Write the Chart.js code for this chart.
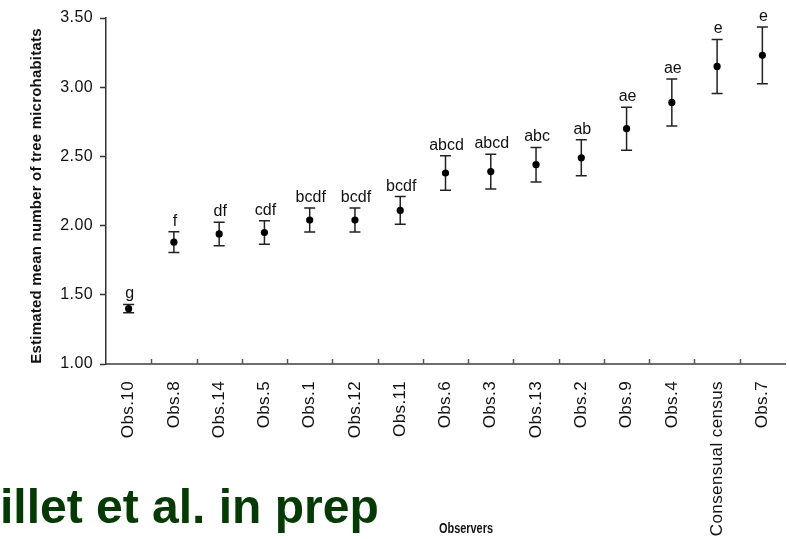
<!DOCTYPE html>
<html>
<head>
<meta charset="utf-8">
<script src="https://cdn.jsdelivr.net/npm/chart.js@4"></script>
<style>
  html, body { margin: 0; padding: 0; background: #fff; }
  #wrap { width: 789px; height: 539px; position: relative; }
</style>
</head>
<body>
<div id="wrap"><canvas id="grafico" width="789" height="539"></canvas></div>
<script>
const observers = ['Obs.10', 'Obs.8', 'Obs.14', 'Obs.5', 'Obs.1', 'Obs.12', 'Obs.11', 'Obs.6', 'Obs.3', 'Obs.13', 'Obs.2', 'Obs.9', 'Obs.4', 'Consensual census', 'Obs.7'];
const means = [1.40, 1.88, 1.94, 1.95, 2.04, 2.04, 2.11, 2.38, 2.39, 2.44, 2.49, 2.70, 2.89, 3.15, 3.23];
const errors = [0.03, 0.075, 0.085, 0.085, 0.087, 0.087, 0.10, 0.125, 0.125, 0.125, 0.13, 0.155, 0.17, 0.195, 0.205];
const groups = ['g', 'f', 'df', 'cdf', 'bcdf', 'bcdf', 'bcdf', 'abcd', 'abcd', 'abc', 'ab', 'ae', 'ae', 'e', 'e'];
const yTicks = [1.0, 1.5, 2.0, 2.5, 3.0, 3.5];

const FONT = "'Liberation Sans', Arial, sans-serif";

// barras de erro, letras e textos extras
const extras = {
    id: 'extras',
    beforeDraw(chart) {
        chart.ctx.letterSpacing = '0.4px';
    },
    beforeDatasetsDraw(chart) {
        const ctx = chart.ctx, xs = chart.scales.x, ys = chart.scales.y;
        ctx.letterSpacing = '0px';
        ctx.save();
        ctx.strokeStyle = '#222';
        ctx.lineWidth = 1.5;
        means.forEach((m, i) => {
            const x = xs.getPixelForValue(i);
            const yt = ys.getPixelForValue(m + errors[i]);
            const yb = ys.getPixelForValue(m - errors[i]);
            ctx.beginPath();
            ctx.moveTo(x, yt); ctx.lineTo(x, yb);
            ctx.moveTo(x - 5.5, yt); ctx.lineTo(x + 5.5, yt);
            ctx.moveTo(x - 5.5, yb); ctx.lineTo(x + 5.5, yb);
            ctx.stroke();
        });
        ctx.restore();
    },
    afterDatasetsDraw(chart) {
        const ctx = chart.ctx, xs = chart.scales.x, ys = chart.scales.y;
        const area = chart.chartArea;
        ctx.save();
        // letras
        ctx.fillStyle = '#111';
        ctx.font = '16px ' + FONT;
        ctx.textAlign = 'center';
        ctx.textBaseline = 'alphabetic';
        groups.forEach((g, i) => {
            const x = xs.getPixelForValue(i);
            const yt = ys.getPixelForValue(means[i] + errors[i]);
            ctx.fillText(g, x + 1, yt - 6);
        });
        // marcas do eixo x (para dentro)
        ctx.strokeStyle = '#555';
        ctx.lineWidth = 1.5;
        const w = xs.getPixelForValue(1) - xs.getPixelForValue(0);
        for (let i = 1; i < observers.length; i++) {
            const x = Math.round(xs.getPixelForValue(i) - w / 2) + 0.5;
            ctx.beginPath();
            ctx.moveTo(x, area.bottom); ctx.lineTo(x, area.bottom - 5);
            ctx.stroke();
        }
        // titulo do eixo y
        ctx.save();
        ctx.translate(37, 196);
        ctx.rotate(-Math.PI / 2);
        ctx.font = 'bold 15px ' + FONT;
        ctx.textAlign = 'center';
        ctx.textBaseline = 'middle';
        ctx.letterSpacing = '0.2px';
        ctx.fillStyle = '#111';
        ctx.fillText('Estimated mean number of tree microhabitats', 0, 0);
        ctx.restore();
        // texto verde
        ctx.font = 'bold 48px ' + FONT;
        ctx.textAlign = 'left';
        ctx.textBaseline = 'alphabetic';
        ctx.fillStyle = '#053a05';
        ctx.fillText('illet et al. in prep', 0, 523);
        // titulo do eixo x (condensado)
        ctx.save();
        ctx.translate(466, 533);
        ctx.scale(0.78, 1);
        ctx.font = 'bold 14px ' + FONT;
        ctx.textAlign = 'center';
        ctx.fillStyle = '#111';
        ctx.fillText('Observers', 0, 0);
        ctx.restore();
        ctx.restore();
    }
};

const ctx = document.getElementById('grafico').getContext('2d');
window.chart = new Chart(ctx, {
    type: 'line',
    data: {
        labels: observers,
        datasets: [{
            data: means,
            showLine: false,
            pointRadius: 3.6,
            pointBackgroundColor: '#000',
            pointBorderColor: '#000',
            pointBorderWidth: 0
        }]
    },
    options: {
        responsive: false,
        animation: false,
        events: [],
        layout: { padding: { top: 18, right: 0, left: 0, bottom: 0 } },
        plugins: { legend: { display: false }, tooltip: { enabled: false } },
        scales: {
            x: {
                type: 'category',
                offset: true,
                afterFit: s => { s.height = 175; s.paddingRight = 0; s.paddingLeft = 0; },
                grid: { display: false, drawTicks: false, offset: true },
                border: { display: true, color: '#6e6e6e', width: 2 },
                ticks: {
                    autoSkip: false,
                    maxRotation: 90,
                    minRotation: 90,
                    padding: 17,
                    color: '#111',
                    font: { family: FONT, size: 17 }
                }
            },
            y: {
                min: 1,
                max: 3.5,
                afterFit: s => { s.width = 106; },
                afterBuildTicks: s => { s.ticks = yTicks.map(v => ({ value: v })); },
                grid: { drawOnChartArea: false, tickLength: 6, color: '#333', tickWidth: 1.5 },
                border: { display: true, color: '#333', width: 1.5 },
                ticks: {
                    padding: 7,
                    color: '#111',
                    font: { family: FONT, size: 16 },
                    callback: v => v.toFixed(2)
                }
            }
        }
    },
    plugins: [extras]
});
</script>
</body>
</html>
